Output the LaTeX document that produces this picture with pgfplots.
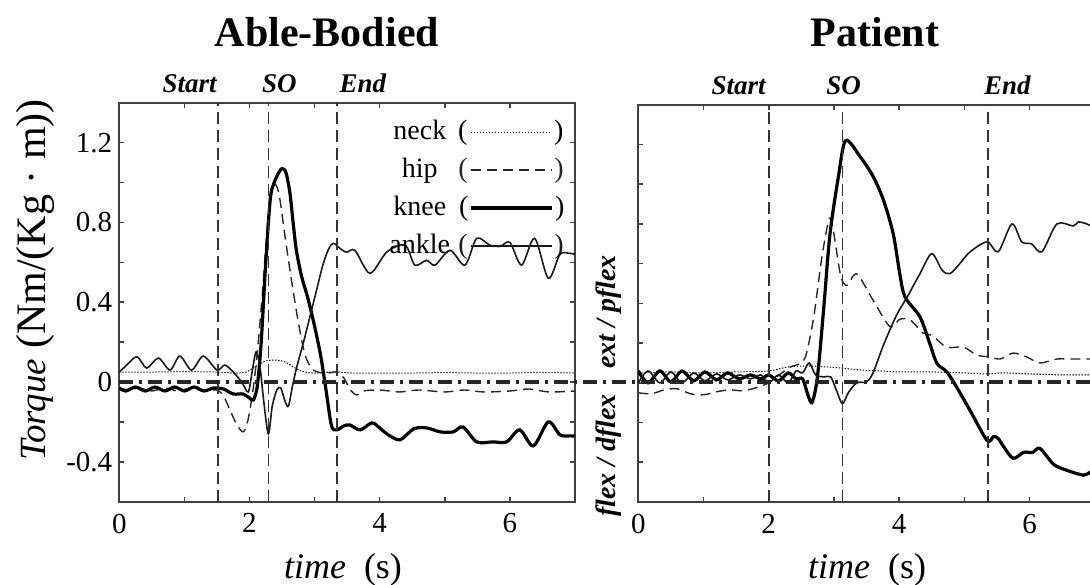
\documentclass[border=0pt]{standalone}
\usepackage{fontspec}
\setmainfont{Liberation Serif}
\usepackage{pgfplots}
\pgfplotsset{compat=1.18}

\newcommand{\fs}[1]{\fontsize{#1}{#1}\selectfont}

\tikzset{
  neck/.style={black, line width=0.5pt, dash pattern=on 0.7pt off 0.8pt},
  hip/.style={black!85, line width=0.7pt, dash pattern=on 5pt off 3pt},
  knee/.style={black, line width=1.6pt},
  ankle/.style={black!90, line width=0.8pt},
  evline/.style={black!80, line width=0.8pt, dash pattern=on 6pt off 3pt},
  evlab/.style={font=\fs{13.5}\bfseries\itshape, anchor=base, yshift=5pt},
}
\pgfplotsset{
  panel/.style={
    scale only axis, clip mode=individual,
    xmin=0, xmax=7, ymin=-0.6, ymax=1.4,
    xtick={0,2,4,6}, xticklabels={0,2,4,6},
    minor xtick={1,3,5,7},
    ytick={-0.4,0,0.4,0.8,1.2}, yticklabels={-0.4,0,0.4,0.8,1.2},
    minor ytick={-0.2,0.2,0.6,1.0},
    tick align=inside, tick pos=both,
    major tick length=2.5pt, minor tick length=2.5pt,
    axis line style={line width=1pt, black!75},
    every tick/.style={line width=0.8pt, black!75},
    tick label style={font=\fs{14.5}},
    xticklabel style={yshift=-2.5pt},
  },
}

\begin{document}
\begin{tikzpicture}
\useasboundingbox (0,0) rectangle (545pt,-292pt);
\clip (0,0) rectangle (545pt,-292pt);

% ---------------- Able-Bodied ----------------
\begin{axis}[panel,
  at={(59.65pt,-250.85pt)}, anchor=south west,
  width=227.85pt, height=199.5pt,
  legend style={draw=none, fill=none, at={(0.978,0.965)}, anchor=north east,
    inner sep=0pt, row sep=4pt, column sep=3pt, font=\fs{14},
    nodes={inner sep=1pt, text height=10pt, text depth=3pt}},
  legend cell align=center, legend plot pos=right,
  legend image code/.code={
    \node[inner sep=0pt, anchor=west, font=\fs{14}] at (0pt,0pt) {(};
    \draw[#1] (6.5pt,0pt) -- (47pt,0pt);
    \node[inner sep=0pt, anchor=west, font=\fs{14}] at (48pt,0pt) {)};
  },
]
\addplot[neck, smooth, tension=0.5] coordinates {
  (0,0.05)(0.5,0.05)(1.0,0.052)(1.5,0.05)(1.8,0.045)(1.95,0.05)(2.1,0.08)
  (2.25,0.105)(2.4,0.11)(2.55,0.1)(2.7,0.07)(2.85,0.05)(3.0,0.045)(3.3,0.05)
  (3.6,0.045)(4,0.045)(4.5,0.045)(5,0.047)(5.5,0.045)(6,0.045)(6.5,0.048)(7,0.045)
};
\addlegendentry{neck}
\addplot[hip, smooth, tension=0.5] coordinates {
  (0,-0.03)(0.15,-0.04)(0.3,-0.03)(0.5,-0.045)(0.7,-0.03)(0.9,-0.045)(1.1,-0.03)
  (1.3,-0.045)(1.5,-0.04)(1.6,-0.07)(1.7,-0.14)(1.8,-0.21)(1.9,-0.25)(1.97,-0.2)
  (2.05,-0.05)(2.12,0.15)(2.2,0.45)(2.28,0.8)(2.35,0.96)(2.4,0.99)(2.46,0.93)
  (2.55,0.72)(2.65,0.5)(2.75,0.3)(2.85,0.14)(2.95,0.07)(3.05,0.05)(3.2,0.045)
  (3.35,0.05)(3.45,0.02)(3.55,-0.04)(3.65,-0.065)(3.75,-0.045)(4.0,-0.04)
  (4.3,-0.05)(4.6,-0.04)(5.0,-0.05)(5.3,-0.04)(5.6,-0.05)(6.0,-0.045)
  (6.3,-0.035)(6.6,-0.05)(7,-0.045)
};
\addlegendentry{hip}
\addplot[knee, smooth, tension=0.5] coordinates {
  (0,-0.03)(0.1,-0.045)(0.25,-0.025)(0.4,-0.045)(0.55,-0.025)(0.7,-0.045)
  (0.85,-0.025)(1.0,-0.045)(1.15,-0.025)(1.3,-0.045)(1.45,-0.03)(1.6,-0.035)
  (1.75,-0.06)(1.9,-0.06)(2.0,-0.08)(2.06,-0.09)(2.12,-0.02)(2.18,0.2)(2.25,0.6)
  (2.32,0.92)(2.38,1.0)(2.45,1.05)(2.5,1.07)(2.56,1.05)(2.62,0.95)(2.67,0.8)
  (2.72,0.66)(2.8,0.53)(2.88,0.44)(2.95,0.35)(3.02,0.25)(3.1,0.12)(3.18,-0.05)
  (3.26,-0.22)(3.34,-0.24)(3.45,-0.22)(3.54,-0.215)(3.7,-0.24)(3.88,-0.205)
  (4.0,-0.23)(4.11,-0.26)(4.31,-0.29)(4.52,-0.235)(4.72,-0.23)(4.93,-0.25)
  (5.13,-0.25)(5.28,-0.225)(5.49,-0.30)(5.74,-0.30)(5.95,-0.30)(6.15,-0.24)
  (6.36,-0.32)(6.59,-0.20)(6.77,-0.265)(6.92,-0.27)(7,-0.27)
};
\addlegendentry{knee}
\addplot[ankle, smooth, tension=0.5] coordinates {
  (0,0.05)(0.1,0.08)(0.27,0.127)(0.42,0.07)(0.6,0.12)(0.78,0.06)(0.93,0.13)
  (1.11,0.06)(1.29,0.13)(1.5,0.06)(1.62,0.085)(1.75,0.05)(1.88,0.0)(1.98,-0.05)
  (2.04,0.05)(2.1,0.15)(2.16,0.08)(2.22,-0.1)(2.29,-0.26)(2.35,-0.12)(2.42,-0.04)
  (2.48,-0.03)(2.55,-0.1)(2.6,-0.12)(2.66,-0.02)(2.73,0.08)(2.83,0.2)(2.93,0.33)
  (3.03,0.46)(3.13,0.59)(3.22,0.67)(3.29,0.695)(3.39,0.67)(3.49,0.65)(3.62,0.66)
  (3.85,0.545)(4.11,0.652)(4.39,0.686)(4.54,0.586)(4.72,0.61)(4.85,0.586)
  (5.08,0.66)(5.31,0.586)(5.49,0.72)(5.69,0.686)(5.85,0.68)(6.0,0.70)
  (6.18,0.586)(6.38,0.72)(6.59,0.52)(6.77,0.64)(6.92,0.645)(7,0.64)
};
\addlegendentry{ankle}
\draw[evline] (axis cs:1.52,-0.6) -- (axis cs:1.52,1.4);
\draw[evline] (axis cs:2.29,-0.6) -- (axis cs:2.29,1.4);
\draw[evline] (axis cs:3.34,-0.6) -- (axis cs:3.34,1.4);
\node[evlab] at (axis cs:1.08,1.4) {Start};
\node[evlab] at (axis cs:2.46,1.4) {SO};
\node[evlab] at (axis cs:3.74,1.4) {End};
\end{axis}

% ---------------- Patient ----------------
\begin{axis}[panel,
  at={(319.15pt,-251pt)}, anchor=south west,
  width=228.2pt, height=198.6pt,
  yticklabels={},
]
\addplot[neck, smooth, tension=0.5] coordinates {
  (0,0.05)(0.5,0.055)(1.0,0.05)(1.5,0.055)(2.0,0.06)(2.3,0.08)(2.6,0.085)
  (2.9,0.08)(3.1,0.075)(3.4,0.065)(3.7,0.06)(4.0,0.055)(4.5,0.055)(5.0,0.05)
  (5.35,0.045)(5.6,0.05)(6.0,0.045)(6.5,0.04)(7.0,0.04)
};
\addplot[hip, smooth, tension=0.5] coordinates {
  (0,-0.05)(0.2,-0.055)(0.4,-0.035)(0.6,-0.03)(0.8,-0.055)(1.0,-0.06)(1.2,-0.045)
  (1.4,-0.035)(1.6,-0.04)(1.8,-0.025)(2.0,0.0)(2.2,0.05)(2.33,0.08)(2.5,0.1)
  (2.58,0.15)(2.69,0.33)(2.81,0.62)(2.9,0.79)(2.95,0.83)(3.0,0.75)(3.07,0.6)
  (3.12,0.52)(3.2,0.49)(3.3,0.54)(3.38,0.54)(3.6,0.417)(3.86,0.283)(4.01,0.32)
  (4.17,0.317)(4.37,0.25)(4.5,0.24)(4.73,0.18)(4.99,0.18)(5.19,0.14)(5.4,0.13)
  (5.55,0.12)(5.75,0.15)(5.96,0.13)(6.16,0.10)(6.42,0.12)(6.67,0.12)(7.0,0.12)
};
\addplot[knee, smooth, tension=0.5] coordinates {
  (0,0.06)(0.15,0.0)(0.33,0.06)(0.5,0.005)(0.67,0.06)(0.85,0.01)(1.02,0.055)
  (1.2,0.015)(1.37,0.05)(1.55,0.02)(1.72,0.04)(1.88,0.02)(2.0,0.04)(2.15,0.01)
  (2.3,0.05)(2.42,0.02)(2.52,0.02)(2.6,-0.06)(2.66,-0.10)(2.72,-0.03)(2.77,0.1)
  (2.85,0.4)(2.94,0.75)(3.07,1.04)(3.18,1.22)(3.4,1.14)(3.6,1.04)(3.76,0.92)
  (3.91,0.75)(4.01,0.55)(4.09,0.433)(4.32,0.332)(4.47,0.198)(4.58,0.098)
  (4.73,0.056)(4.88,-0.02)(5.09,-0.14)(5.35,-0.29)(5.45,-0.27)(5.52,-0.28)
  (5.6,-0.32)(5.75,-0.38)(5.91,-0.35)(6.05,-0.35)(6.16,-0.33)(6.37,-0.41)
  (6.57,-0.44)(6.83,-0.465)(6.93,-0.45)(7.0,-0.46)
};
\addplot[ankle, smooth, tension=0.5] coordinates {
  (0,0.0)(0.15,0.06)(0.33,0.0)(0.5,0.055)(0.67,0.0)(0.85,0.05)(1.02,0.01)
  (1.2,0.045)(1.37,0.015)(1.55,0.04)(1.72,0.02)(1.88,0.04)(2.0,0.0)(2.15,0.04)
  (2.3,0.0)(2.42,0.06)(2.52,0.05)(2.62,0.1)(2.72,0.04)(2.85,0.03)(2.95,0.03)
  (3.03,-0.03)(3.13,-0.105)(3.22,-0.05)(3.35,0.0)(3.5,0.005)(3.6,0.05)
  (3.76,0.19)(3.96,0.34)(4.12,0.43)(4.32,0.55)(4.5,0.65)(4.66,0.567)(4.78,0.55)
  (4.93,0.60)(5.09,0.66)(5.35,0.71)(5.52,0.66)(5.73,0.80)(5.88,0.71)(6.03,0.70)
  (6.19,0.66)(6.42,0.80)(6.67,0.79)(6.75,0.81)(6.88,0.80)(7.0,0.78)
};
\draw[evline] (axis cs:2.0,-0.6) -- (axis cs:2.0,1.4);
\draw[evline] (axis cs:3.13,-0.6) -- (axis cs:3.13,1.4);
\draw[evline] (axis cs:5.36,-0.6) -- (axis cs:5.36,1.4);
\node[evlab] at (axis cs:1.54,1.4) {Start};
\node[evlab] at (axis cs:3.15,1.4) {SO};
\node[evlab] at (axis cs:5.66,1.4) {End};
\end{axis}

% zero reference line across both panels
\draw[black!85, line width=1.6pt, dash pattern=on 7pt off 3pt on 1.5pt off 3pt]
  (59.65pt,-191pt) -- (545pt,-191pt);

% titles and axis labels
\node[font=\fs{21}\bfseries, anchor=base] at (163.5pt,-23pt) {Able-Bodied};
\node[font=\fs{21}\bfseries, anchor=base] at (437.5pt,-23pt) {Patient};
\node[font=\fs{18}, anchor=base] at (171.5pt,-289pt) {\textit{time}\ \ (s)};
\node[font=\fs{18}, anchor=base] at (433.5pt,-289pt) {\textit{time}\ \ (s)};
\node[rotate=90] at (17.5pt,-140pt)
  {{\fs{18.5}\itshape Torque}\ \ {\fs{21}(Nm/(Kg · m))}};
\node[font=\fs{14}\bfseries\itshape, rotate=90] at (304.5pt,-227.75pt) {flex / dflex};
\node[font=\fs{14}\bfseries\itshape, rotate=90] at (304.5pt,-156pt) {ext / pflex};
\end{tikzpicture}
\end{document}
